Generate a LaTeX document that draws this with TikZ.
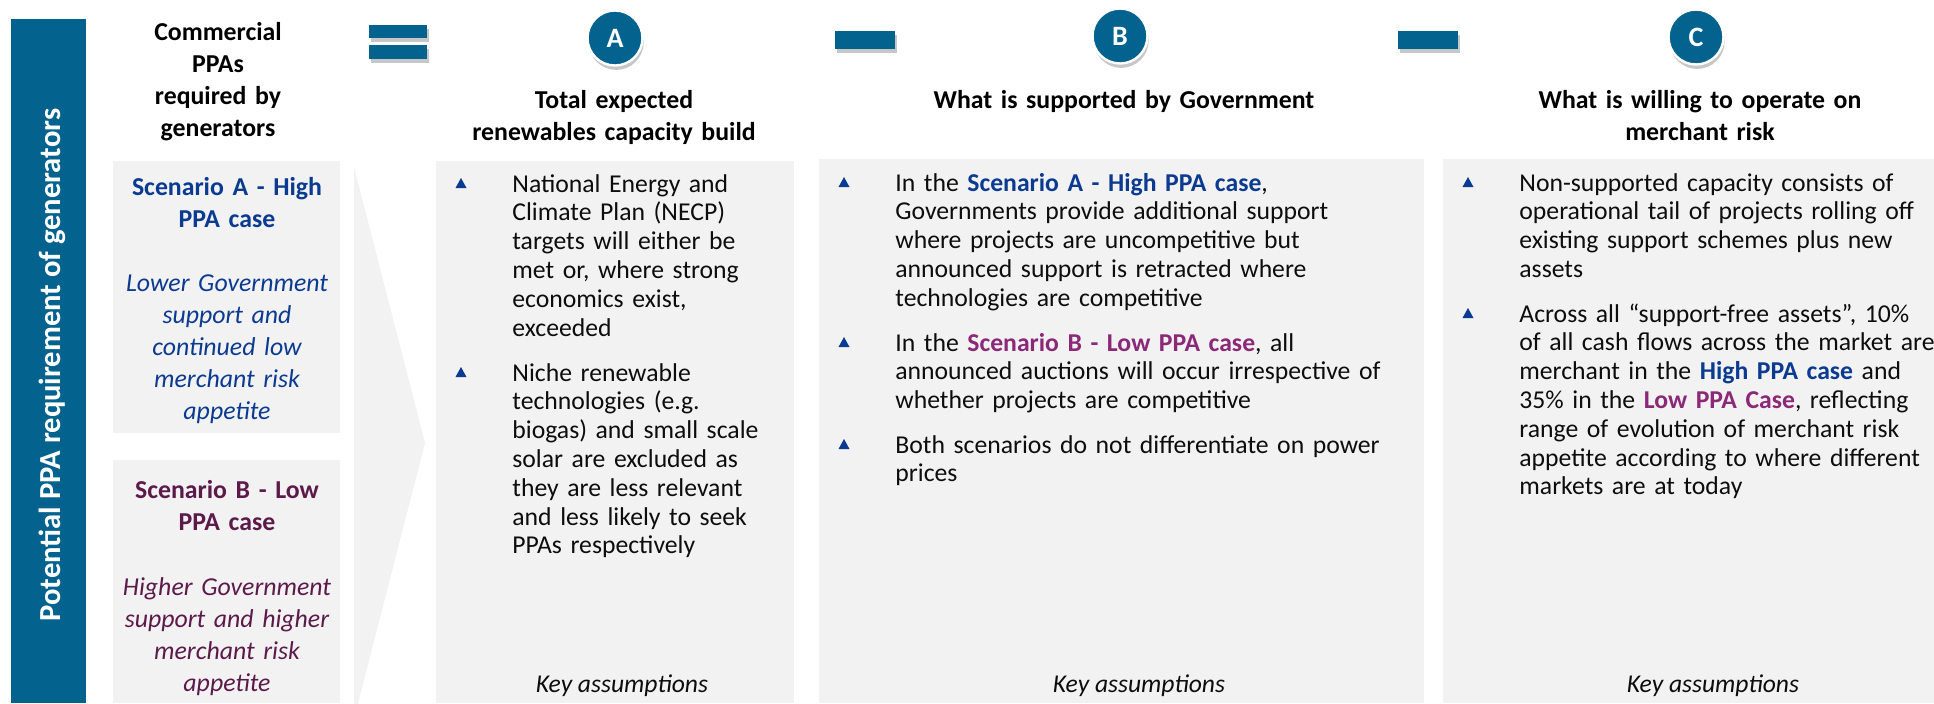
\documentclass[tikz,border=0pt]{standalone}
\usepackage{fontspec}
\setmainfont{Carlito}
\usetikzlibrary{shadows}
\definecolor{tealc}{HTML}{03628E}
\definecolor{panel}{HTML}{F2F2F2}
\definecolor{dblue}{HTML}{0B3A91}
\definecolor{dpurple}{HTML}{5C1A4B}
\definecolor{mpurple}{HTML}{8B2878}
\definecolor{txt}{HTML}{0D0D0D}
\begin{document}
\begin{tikzpicture}[x=0.5pt,y=-0.5pt,
  body/.style={anchor=base west, inner sep=0pt, text width=#1, align=left, font=\fontsize{12.85}{14.4}\selectfont, text=txt},
  head/.style={anchor=base, inner sep=0pt, text width=220pt, align=center, font=\bfseries\fontsize{12.9}{16}\selectfont, text=black},
  lefthead/.style={anchor=base, inner sep=0pt, text width=112pt, align=center, font=\bfseries\fontsize{12.9}{16}\selectfont},
  leftital/.style={anchor=base, inner sep=0pt, text width=112pt, align=center, font=\itshape\fontsize{12.9}{16}\selectfont},
  keyass/.style={anchor=base, inner sep=0pt, font=\itshape\fontsize{12.8}{14.4}\selectfont, text=txt},
  opbar/.style={fill=tealc, drop shadow={shadow xshift=0.8pt, shadow yshift=-2pt, fill=black, opacity=0.22}},
  letter/.style={circle, fill=tealc, draw=white, line width=1.2pt, minimum size=27.5pt, inner sep=0pt, text=white, font=\bfseries\fontsize{14}{16}\selectfont, drop shadow={shadow xshift=0.6pt, shadow yshift=-2.2pt, fill=black, opacity=0.22}},
  bul/.pic={\fill[dblue] (-5.5,5) -- (5.5,5) -- (0,-5) -- cycle;}
]
\useasboundingbox (0,0) rectangle (1934,703);
% vertical bar
\fill[tealc] (11,19) rectangle (86,703);
\node[rotate=90, anchor=base, inner sep=0pt, text=white, font=\bfseries\fontsize{15.3}{18}\selectfont] (vtitle) at (61,365) {Potential PPA requirement of generators};
% left column
\node[lefthead, text=black] (lh) at (218,40) {Commercial\\PPAs\\required by\\generators};
\fill[panel] (113,161) rectangle (340,433);
\fill[panel] (113,460) rectangle (340,703);
\node[lefthead, text=dblue] (sa) at (227,195) {Scenario A - High\\PPA case};
\node[leftital, text=dblue] (sai) at (227,291) {Lower Government\\support and\\continued low\\merchant risk\\appetite};
\node[lefthead, text=dpurple] (sb) at (227,498) {Scenario B - Low\\PPA case};
\node[leftital, text=dpurple] (sbi) at (227,595) {Higher Government\\support and higher\\merchant risk\\appetite};
% chevron
\fill[panel] (354,167) -- (425,443) -- (354,719) -- cycle;
% operators
\path[opbar] (369,25) rectangle (427,38);
\path[opbar] (369,45) rectangle (427,59);
\path[opbar] (835,31) rectangle (895,49);
\path[opbar] (1398,31) rectangle (1458,49);
% circles
\node[letter] (ca) at (615,38) {A};
\node[letter] (cb) at (1120,36) {B};
\node[letter] (cc) at (1696,37) {C};
% headings
\node[head] (ha) at (614,108) {Total expected\\renewables capacity build};
\node[head, text width=300pt] (hb) at (1124,108) {What is supported by Government};
\node[head] (hc) at (1700,108) {What is willing to operate on\\merchant risk};
% column panels
\fill[panel] (436,161) rectangle (794,703);
\fill[panel] (819,159) rectangle (1424,703);
\fill[panel] (1443,159) rectangle (1934,703);
% column A
\pic at (461,183) {bul};
\node[body=145pt] (a1) at (512,192) {National Energy and\\Climate Plan (NECP)\\targets will either be\\met or, where strong\\economics exist,\\exceeded};
\pic at (461,372) {bul};
\node[body=145pt] (a2) at (512,381) {Niche renewable\\technologies (e.g.\\biogas) and small scale\\solar are excluded as\\they are less relevant\\and less likely to seek\\PPAs respectively};
\node[keyass] (ka) at (622,692) {Key assumptions};
% column B
\pic at (844,182) {bul};
\node[body=270pt] (b1) at (895,191) {In the \textbf{\color{dblue}Scenario A - High PPA case},\\Governments provide additional support\\where projects are uncompetitive but\\announced support is retracted where\\technologies are competitive};
\pic at (844,342) {bul};
\node[body=270pt] (b2) at (895,351) {In the \textbf{\color{mpurple}Scenario B - Low PPA case}, all\\announced auctions will occur irrespective of\\whether projects are competitive};
\pic at (844,444) {bul};
\node[body=270pt] (b3) at (895,453) {Both scenarios do not differentiate on power\\prices};
\node[keyass] (kb) at (1139,692) {Key assumptions};
% column C
\pic at (1468,182) {bul};
\node[body=230pt] (c1) at (1519,191) {Non-supported capacity consists of\\operational tail of projects rolling off\\existing support schemes plus new\\assets};
\pic at (1468,313) {bul};
\node[body=230pt] (c2) at (1519,322) {Across all “support-free assets”, 10\%\\of all cash flows across the market are\\merchant in the \textbf{\color{dblue}High PPA case} and\\35\% in the \textbf{\color{mpurple}Low PPA Case}, reflecting\\range of evolution of merchant risk\\appetite according to where different\\markets are at today};
\node[keyass] (kc) at (1713,692) {Key assumptions};
\end{tikzpicture}
\end{document}
